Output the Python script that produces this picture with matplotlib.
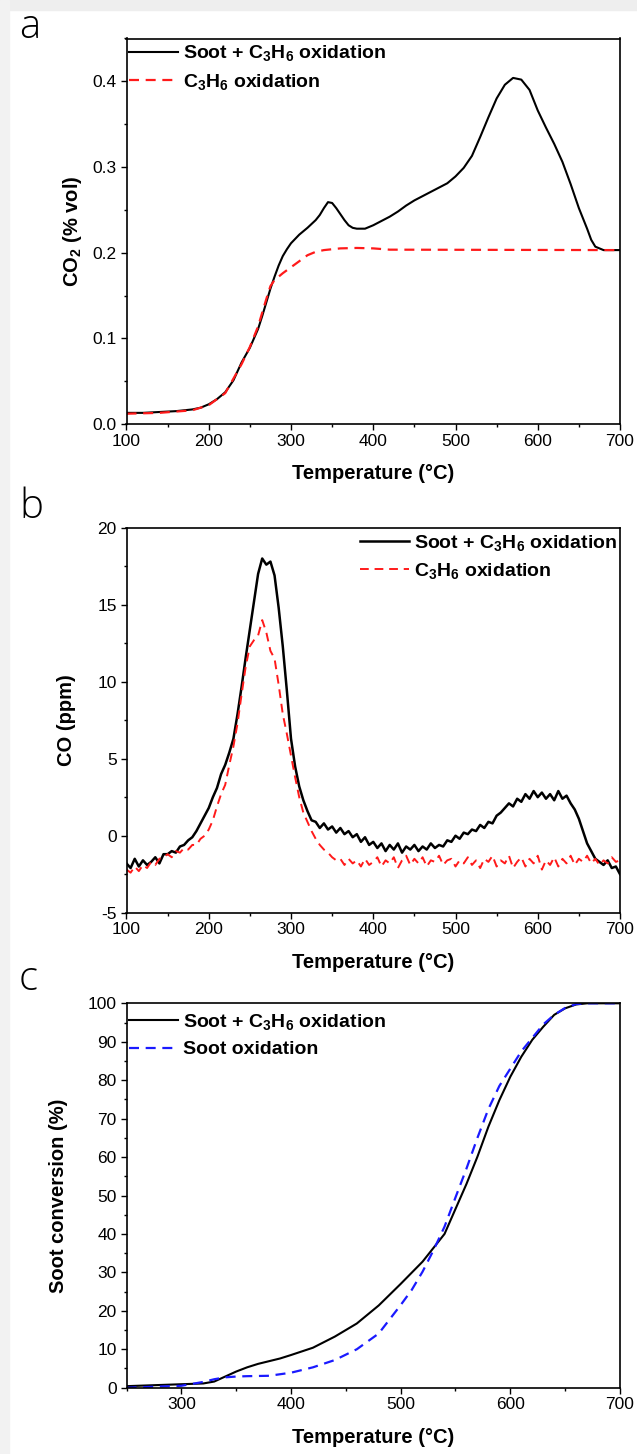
import numpy as np
import matplotlib
matplotlib.use('Agg')
import matplotlib.pyplot as plt
from matplotlib.ticker import MultipleLocator, FormatStrFormatter
from matplotlib.patches import Rectangle

plt.rcParams['font.family'] = ['Liberation Sans', 'DejaVu Sans']
plt.rcParams['mathtext.default'] = 'regular'
plt.rcParams['axes.unicode_minus'] = False

# panel a: CO2 (% vol)
temp_a = [100, 120, 140, 160, 180, 190, 200, 210, 220, 230, 240, 250, 260, 265,
          270, 275, 280, 285, 290, 295, 300, 310, 320, 330, 335, 340, 345, 350,
          355, 360, 365, 370, 375, 380, 390, 400, 410, 420, 430, 440, 450, 460,
          470, 480, 490, 500, 510, 520, 530, 540, 550, 560, 570, 580, 590, 600,
          610, 620, 630, 640, 650, 660, 665, 670, 680, 690, 700]
co2_soot = [0.013, 0.013, 0.014, 0.015, 0.017, 0.019, 0.023, 0.029, 0.037, 0.051,
            0.072, 0.089, 0.111, 0.126, 0.142, 0.158, 0.172, 0.185, 0.196, 0.204,
            0.211, 0.221, 0.229, 0.238, 0.244, 0.252, 0.259, 0.258, 0.252, 0.245,
            0.238, 0.232, 0.229, 0.228, 0.228, 0.232, 0.237, 0.242, 0.248, 0.255,
            0.261, 0.266, 0.271, 0.276, 0.281, 0.289, 0.299, 0.313, 0.335, 0.358,
            0.380, 0.396, 0.404, 0.402, 0.390, 0.366, 0.346, 0.327, 0.306, 0.280,
            0.252, 0.228, 0.215, 0.207, 0.203, 0.203, 0.203]
temp_a_red = [100, 140, 180, 200, 220, 240, 250, 260, 270, 275, 280, 290, 300,
              310, 320, 330, 340, 360, 380, 400, 420, 700]
co2_c3h6 = [0.012, 0.013, 0.016, 0.022, 0.036, 0.070, 0.090, 0.114, 0.146, 0.161,
            0.168, 0.176, 0.183, 0.190, 0.197, 0.201, 0.203, 0.205, 0.2055, 0.205,
            0.2035, 0.203]

# panel b: CO (ppm), 5 degC steps
temp_b = np.arange(100, 701, 5)
co_soot = [-1.8, -2.1, -1.5, -2.0, -1.6, -1.9, -1.7, -1.4, -1.8, -1.2,
           -1.2, -1.0, -1.1, -0.7, -0.6, -0.3, -0.1, 0.3, 0.8, 1.3,
           1.8, 2.5, 3.1, 4.0, 4.6, 5.4, 6.3, 7.9, 9.7, 11.6,
           13.4, 15.2, 17.0, 18.0, 17.6, 17.8, 16.9, 14.8, 12.3, 9.4,
           6.3, 4.5, 3.2, 2.3, 1.6, 1.0, 0.9, 0.5, 0.8, 0.4,
           0.6, 0.2, 0.5, 0.1, 0.3, -0.1, 0.1, -0.4, -0.1, -0.6,
           -0.4, -0.8, -0.5, -1.0, -0.6, -0.9, -0.5, -1.1, -0.7, -0.9,
           -0.6, -1.0, -0.7, -0.9, -0.5, -0.8, -0.6, -0.7, -0.3, -0.4,
           0.0, -0.2, 0.2, 0.1, 0.4, 0.3, 0.7, 0.5, 0.9, 0.8,
           1.3, 1.5, 1.8, 2.1, 1.9, 2.4, 2.2, 2.7, 2.4, 2.9,
           2.5, 2.8, 2.4, 2.7, 2.3, 2.9, 2.4, 2.6, 2.1, 1.7,
           1.1, 0.3, -0.5, -1.0, -1.5, -1.7, -1.9, -1.6, -2.1, -2.0,
           -2.5]
co_c3h6 = [-2.2, -2.4, -2.0, -2.3, -1.9, -2.1, -1.7, -1.9, -1.5, -1.4,
           -1.2, -1.4, -1.0, -1.1, -0.8, -0.9, -0.6, -0.6, -0.2, 0.0,
           0.4, 1.0, 1.9, 2.7, 3.3, 4.6, 5.8, 7.3, 9.2, 11.0,
           12.3, 12.7, 13.0, 14.0, 13.2, 12.0, 11.5, 9.8, 7.9, 6.6,
           5.2, 3.8, 2.5, 1.5, 0.9, 0.3, -0.2, -0.6, -0.9, -1.1,
           -1.4, -1.6, -1.5, -1.9, -1.5, -1.8, -1.6, -2.0, -1.5, -1.9,
           -1.7, -1.4, -2.0, -1.6, -1.8, -1.4, -2.1, -1.6, -1.3, -1.9,
           -1.5, -1.8, -1.4, -2.0, -1.6, -1.7, -1.3, -1.9, -1.6, -1.5,
           -2.0, -1.6, -1.8, -1.4, -1.9, -1.6, -2.1, -1.5, -1.7, -1.3,
           -2.0, -1.6, -1.8, -1.3, -2.1, -1.7, -1.4, -2.0, -1.5, -1.8,
           -1.3, -2.2, -1.6, -1.9, -1.4, -2.0, -1.5, -1.8, -1.3, -1.9,
           -1.5, -1.7, -1.3, -1.8, -1.5, -1.9, -1.6, -1.8, -1.4, -1.7,
           -1.6]

# panel c: soot conversion (%)
temp_c = [250, 300, 320, 330, 340, 350, 360, 370, 390, 400, 420, 440, 460, 480,
          500, 520, 540, 550, 560, 570, 580, 590, 600, 610, 620, 630, 640, 650,
          660, 670, 700]
conv_soot_c3h6 = [0.4, 0.9, 1.1, 1.6, 2.9, 4.2, 5.3, 6.2, 7.6, 8.5, 10.4, 13.3,
                  16.7, 21.4, 27.0, 32.8, 40.0, 46.5, 53.0, 60.1, 67.9, 74.8,
                  80.9, 86.1, 90.5, 93.9, 97.0, 98.7, 99.7, 100.0, 100.0]
temp_c_blue = [250, 300, 320, 330, 340, 350, 360, 380, 400, 420, 440, 460, 480,
               500, 510, 520, 530, 540, 550, 560, 570, 580, 590, 600, 610, 620,
               630, 640, 650, 660, 670, 700]
conv_soot = [0.0, 0.5, 1.5, 2.2, 2.7, 2.9, 3.0, 3.1, 3.9, 5.3, 7.2, 10.0, 14.1,
             21.5, 25.4, 30.2, 35.8, 41.9, 49.5, 57.0, 65.0, 72.5, 78.5, 83.0,
             87.5, 91.0, 94.5, 97.0, 98.8, 99.8, 100.0, 100.0]

lab_mix = r'Soot + C$_3$H$_6$ oxidation'
lab_c3h6 = r'C$_3$H$_6$ oxidation'
lab_soot = 'Soot oxidation'

W, H = 637, 1454
fig = plt.figure(figsize=(W / 100, H / 100), dpi=100)
fig.patches.append(Rectangle((0, 1 - 10 / H), 1, 10 / H, transform=fig.transFigure,
                             color='#eeeeee', zorder=0))
fig.patches.append(Rectangle((0, 0), 9 / W, 1, transform=fig.transFigure,
                             color='#f2f2f2', zorder=0))

left, width = 126.5 / W, (620 - 126.5) / W


def make_ax(top_px, bottom_px):
    ax = fig.add_axes([left, 1 - bottom_px / H, width, (bottom_px - top_px) / H])
    for s in ax.spines.values():
        s.set_linewidth(1.2)
    ax.tick_params(which='both', direction='out', width=1, labelsize=12.5,
                   top=False, right=False)
    ax.tick_params(which='major', length=4, pad=3)
    ax.tick_params(which='minor', length=2.5)
    ax.set_xlabel('Temperature (°C)', fontsize=14.5, fontweight='bold', labelpad=11)
    return ax


leg_kw = dict(frameon=False, borderaxespad=0, borderpad=0.15, handlelength=2.5,
              handletextpad=0.25, labelspacing=0.45,
              prop=dict(family='Liberation Sans', weight='bold', size=14))
dash = (0, (4.5, 3))

# a
ax = make_ax(38.5, 424)
ax.plot(temp_a, co2_soot, color='black', lw=1.5, label=lab_mix)
ax.plot(temp_a_red, co2_c3h6, color='#ff1a1a', lw=1.6, ls=dash, label=lab_c3h6)
ax.set_xlim(100, 700)
ax.set_ylim(0, 0.45)
ax.xaxis.set_major_locator(MultipleLocator(100))
ax.xaxis.set_minor_locator(MultipleLocator(50))
ax.yaxis.set_major_locator(MultipleLocator(0.1))
ax.yaxis.set_minor_locator(MultipleLocator(0.05))
ax.yaxis.set_major_formatter(FormatStrFormatter('%.1f'))
ax.set_ylabel(r'CO$_2$ (% vol)', fontsize=14.5, fontweight='bold', labelpad=6)
ax.legend(loc='upper left', bbox_to_anchor=(0, 0.995), **leg_kw)

# b
ax = make_ax(527.7, 912.7)
ax.plot(temp_b, co_soot, color='black', lw=1.8, label=lab_mix)
ax.plot(temp_b, co_c3h6, color='#ff1a1a', lw=1.4, ls=dash, label=lab_c3h6)
ax.set_xlim(100, 700)
ax.set_ylim(-5, 20)
ax.xaxis.set_major_locator(MultipleLocator(100))
ax.xaxis.set_minor_locator(MultipleLocator(50))
ax.yaxis.set_major_locator(MultipleLocator(5))
ax.yaxis.set_minor_locator(MultipleLocator(2.5))
ax.set_ylabel('CO (ppm)', fontsize=14.5, fontweight='bold', labelpad=15)
ax.legend(loc='upper right', bbox_to_anchor=(1, 0.995), **leg_kw)

# c
ax = make_ax(1003.3, 1387.7)
ax.plot(temp_c, conv_soot_c3h6, color='black', lw=1.5, label=lab_mix)
ax.plot(temp_c_blue, conv_soot, color='#1a1aff', lw=1.6, ls=dash, label=lab_soot)
ax.set_xlim(250, 700)
ax.set_ylim(0, 100)
ax.xaxis.set_major_locator(MultipleLocator(100))
ax.xaxis.set_minor_locator(MultipleLocator(50))
ax.yaxis.set_major_locator(MultipleLocator(10))
ax.yaxis.set_minor_locator(MultipleLocator(5))
ax.set_ylabel('Soot conversion (%)', fontsize=14.5, fontweight='bold', labelpad=14)
ax.legend(loc='upper left', bbox_to_anchor=(0, 0.985), **leg_kw)

# panel letters
for letter, base in [('a', 38), ('b', 518), ('c', 990)]:
    fig.text(19 / W, 1 - base / H, letter, fontsize=29, family='Open Sans',
             fontweight='light', va='baseline', ha='left')

fig.savefig('out.png', dpi=100)
